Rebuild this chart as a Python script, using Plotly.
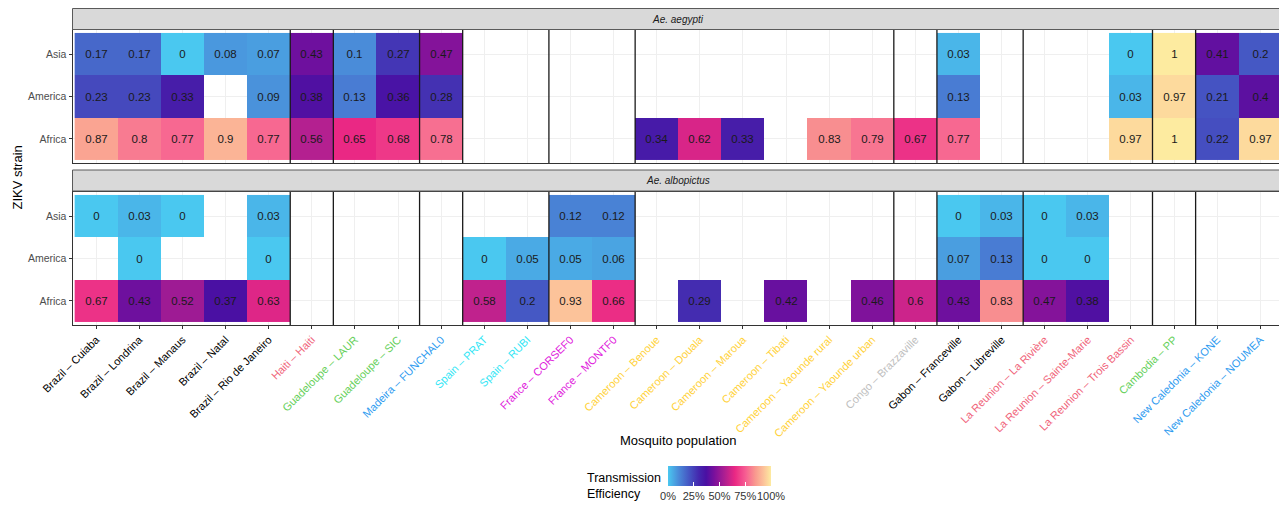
import plotly.graph_objects as go

W, H = 1287, 505
OX, OY = 8, 8  # page body margin offset of the rendered figure

# ---------------- data ----------------
populations = [
    "Brazil – Cuiaba", "Brazil – Londrina", "Brazil – Manaus", "Brazil – Natal", "Brazil – Rio de Janeiro",
    "Haiti – Haiti", "Guadeloupe – LAUR", "Guadeloupe – SIC", "Madeira – FUNCHAL0",
    "Spain – PRAT", "Spain – RUBI", "France – CORSEF0", "France – MONTF0",
    "Cameroon – Benoue", "Cameroon – Douala", "Cameroon – Maroua", "Cameroon – Tibati",
    "Cameroon – Yaounde rural", "Cameroon – Yaounde urban", "Congo – Brazzaville",
    "Gabon – Franceville", "Gabon – Libreville",
    "La Reunion – La Rivière", "La Reunion – Sainte-Marie", "La Reunion – Trois Bassin",
    "Cambodia – PP", "New Caledonia – KONE", "New Caledonia – NOUMEA",
]
country_colors = {
    "Brazil": "#000000", "Haiti": "#F0647A", "Guadeloupe": "#66D05A", "Madeira": "#2E9BF0",
    "Spain": "#33E6F5", "France": "#E020DC", "Cameroon": "#FFD23A", "Congo": "#BEBEBE",
    "Gabon": "#000000", "La Reunion": "#F0647A", "Cambodia": "#66D05A", "New Caledonia": "#2E9BF0",
}
strains = ["Africa", "America", "Asia"]
N = None

aegypti_asia = [0.17, 0.17, 0, 0.08, 0.07, 0.43, 0.1, 0.27, 0.47,
                N, N, N, N, N, N, N, N, N, N, N,
                0.03, N, N, N, 0, 1, 0.41, 0.2]
aegypti_america = [0.23, 0.23, 0.33, N, 0.09, 0.38, 0.13, 0.36, 0.28,
                   N, N, N, N, N, N, N, N, N, N, N,
                   0.13, N, N, N, 0.03, 0.97, 0.21, 0.4]
aegypti_africa = [0.87, 0.8, 0.77, 0.9, 0.77, 0.56, 0.65, 0.68, 0.78,
                  N, N, N, N, 0.34, 0.62, 0.33, N, 0.83, 0.79, 0.67,
                  0.77, N, N, N, 0.97, 1, 0.22, 0.97]

albopictus_asia = [0, 0.03, 0, N, 0.03, N, N, N, N,
                   N, N, 0.12, 0.12, N, N, N, N, N, N, N,
                   0, 0.03, 0, 0.03, N, N, N, N]
albopictus_america = [N, 0, N, N, 0, N, N, N, N,
                      0, 0.05, 0.05, 0.06, N, N, N, N, N, N, N,
                      0.07, 0.13, 0, 0, N, N, N, N]
albopictus_africa = [0.67, 0.43, 0.52, 0.37, 0.63, N, N, N, N,
                     0.58, 0.2, 0.93, 0.66, N, 0.29, N, 0.42, N, 0.46, 0.6,
                     0.43, 0.83, 0.47, 0.38, N, N, N, N]

legend_ticks = [0, 0.25, 0.5, 0.75, 1]
legend_labels = ["0%", "25%", "50%", "75%", "100%"]

colorscale = [
    [0.0, "#4ac8f0"], [0.1, "#4a8cd9"], [0.2, "#4558c4"], [0.3, "#4427ae"],
    [0.37, "#4a10a3"], [0.45, "#7a109c"], [0.55, "#ae1f91"], [0.65, "#ea2884"],
    [0.75, "#f65c92"], [0.85, "#f99a8f"], [0.93, "#fcc39a"], [1.0, "#fdeba0"],
]

FONT = "Liberation Sans"


def px_x(p):
    return (p - OX) / W


def px_y(p):
    return 1 - (p - OY) / H


def fmt(v):
    return "" if v is None else f"{v:g}"


panels = [
    ("Ae. aegypti", [aegypti_africa, aegypti_america, aegypti_asia], (30, 163), (8.5, 29.5)),
    ("Ae. albopictus", [albopictus_africa, albopictus_america, albopictus_asia], (192, 325), (170, 191)),
]

X0, X1 = 72.5, 1284

fig = go.Figure()
shapes = []
annotations = []

# group boundaries from the country of each population
countries = [p.split(" – ")[0] for p in populations]
bounds = [i - 0.5 for i in range(1, len(countries)) if countries[i] != countries[i - 1]]

for k, (name, z, (ytop, ybot), (stop, sbot)) in enumerate(panels):
    sfx = "" if k == 0 else str(k + 1)
    fig.add_trace(go.Heatmap(
        x=populations, y=strains, z=z,
        text=[[fmt(v) for v in row] for row in z],
        texttemplate="%{text}",
        textfont=dict(family=FONT, size=11.5, color="#1a1a1a"),
        coloraxis="coloraxis", xaxis="x" + sfx, yaxis="y" + sfx,
        hoverongaps=False, xgap=0, ygap=0,
    ))
    bottom = (k == 1)
    ticktext = [f"<span style='color:{country_colors[c]}'>{p}</span>" for p, c in zip(populations, countries)]
    fig.layout["xaxis" + sfx] = dict(
        domain=[px_x(X0), px_x(X1)], anchor="y" + sfx, type="category",
        range=[-0.55, len(populations) - 0.45],
        showgrid=True, gridcolor="#efefef", gridwidth=1, zeroline=False,
        showline=True, mirror=True, linecolor="#333333", linewidth=1,
        ticks="outside" if bottom else "", ticklen=3, tickcolor="#333333",
        showticklabels=bottom, tickangle=-45,
        tickvals=populations, ticktext=ticktext,
        tickfont=dict(family=FONT, size=11, color="#000000"),
        fixedrange=True,
    )
    fig.layout["yaxis" + sfx] = dict(
        domain=[px_y(ybot), px_y(ytop)], anchor="x" + sfx, type="category",
        categoryorder="array", categoryarray=strains,
        range=[-0.57, 2.57],
        showgrid=True, gridcolor="#efefef", gridwidth=1, zeroline=False,
        showline=True, mirror=True, linecolor="#333333", linewidth=1,
        ticks="outside", ticklen=3, tickcolor="#333333",
        tickfont=dict(family=FONT, size=10.5, color="#4d4d4d"),
        fixedrange=True,
    )
    xr = "x" + sfx
    yr = ("y" + sfx) + " domain"
    for b in bounds:
        shapes.append(dict(type="line", xref=xr, yref=yr, x0=b, x1=b, y0=0, y1=1,
                           line=dict(color="#1a1a1a", width=1.3), layer="above"))
    # strip
    shapes.append(dict(type="rect", xref="paper", yref="paper",
                       x0=px_x(X0), x1=px_x(X1), y0=px_y(sbot), y1=px_y(stop),
                       fillcolor="#d9d9d9", line=dict(color="#5a5a5a", width=1)))
    annotations.append(dict(text=f"<i>{name}</i>", xref="paper", yref="paper",
                            x=px_x((X0 + X1) / 2), y=px_y((stop + sbot) / 2),
                            showarrow=False, xanchor="center", yanchor="middle",
                            font=dict(family=FONT, size=10, color="#1a1a1a")))

annotations.append(dict(text="ZIKV strain", xref="paper", yref="paper",
                        x=px_x(17), y=px_y(177.5), textangle=-90, showarrow=False,
                        xanchor="center", yanchor="middle",
                        font=dict(family=FONT, size=13, color="#000000")))
annotations.append(dict(text="Mosquito population", xref="paper", yref="paper",
                        x=px_x((X0 + X1) / 2), y=px_y(440), showarrow=False,
                        xanchor="center", yanchor="middle",
                        font=dict(family=FONT, size=13, color="#000000")))
annotations.append(dict(text="Transmission<br>Efficiency", xref="paper", yref="paper",
                        x=px_x(585), y=px_y(486), showarrow=False, align="left",
                        xanchor="left", yanchor="middle",
                        font=dict(family=FONT, size=12.5, color="#000000")))

fig.update_layout(
    width=W, height=H,
    margin=dict(l=0, r=0, t=0, b=0, autoexpand=False),
    paper_bgcolor="white", plot_bgcolor="white",
    font=dict(family=FONT),
    shapes=shapes, annotations=annotations,
    coloraxis=dict(
        colorscale=colorscale, cmin=0, cmax=1,
        colorbar=dict(
            orientation="h", x=px_x(719.5), xanchor="center",
            y=px_y(466), yanchor="top",
            len=103, lenmode="pixels", thickness=20, thicknessmode="pixels",
            outlinewidth=0, xpad=0, ypad=0,
            tickvals=legend_ticks, ticktext=legend_labels, tickangle=0,
            ticks="inside", tickcolor="white", ticklen=4,
            tickfont=dict(family=FONT, size=11, color="#333333"),
        ),
    ),
    showlegend=False,
)

fig.write_html("out.html")
